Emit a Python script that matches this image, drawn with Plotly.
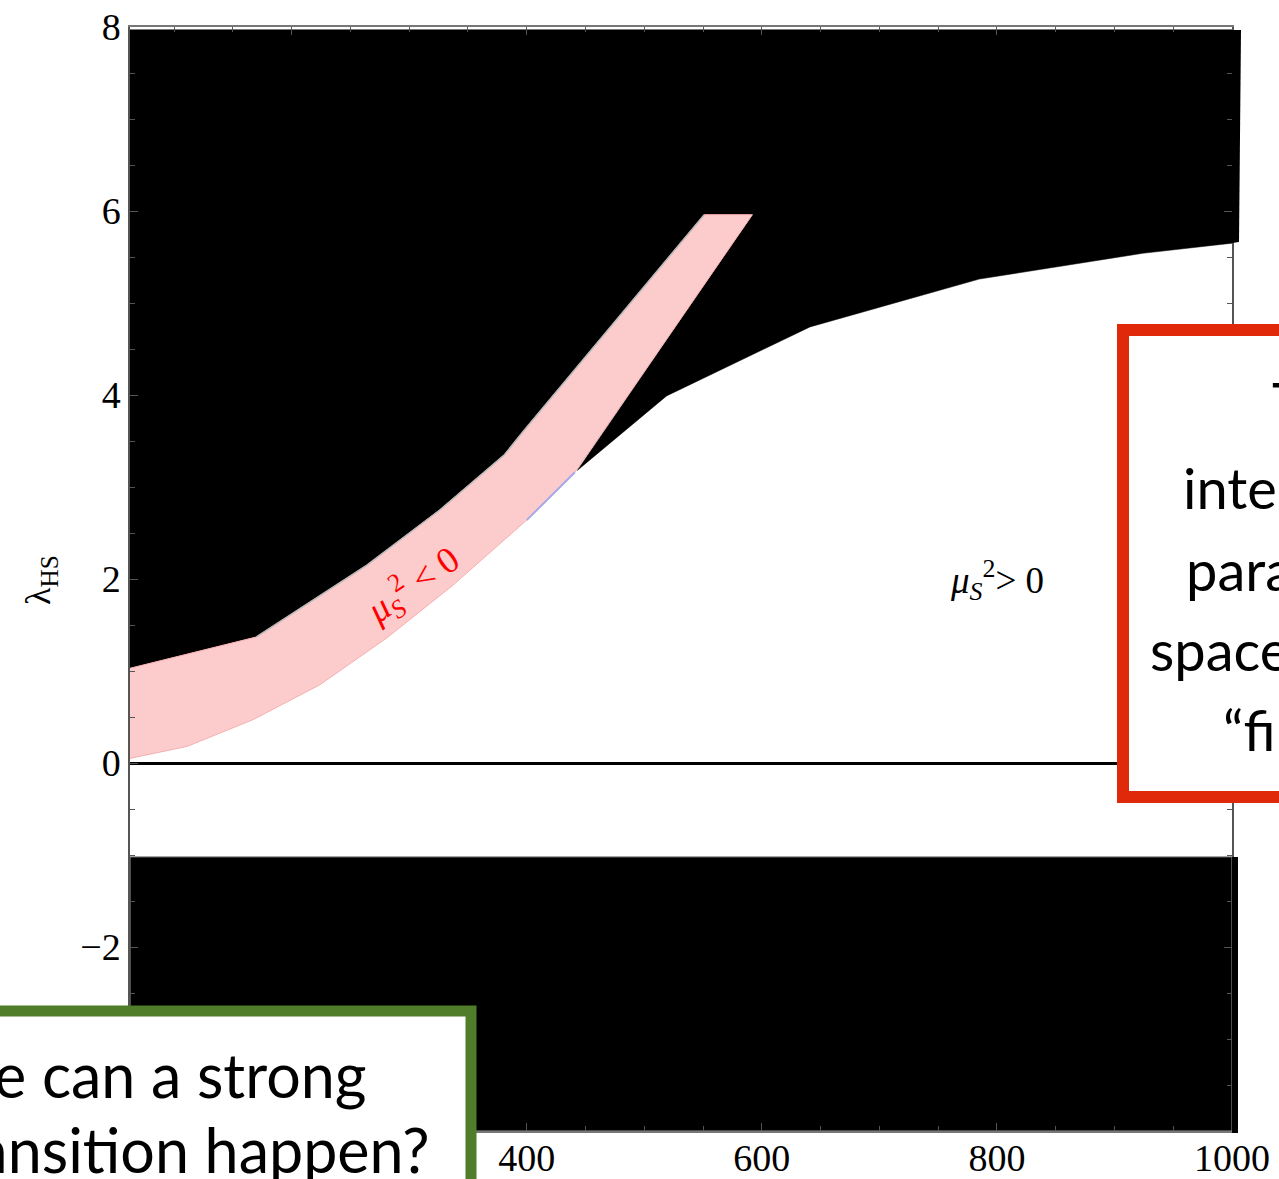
import plotly.graph_objects as go

# ---------------- data ----------------
x_range = [62.5, 1000]
y_range = [-4, 8]

# upper excluded (black) region: lower boundary right of the pink band
edge_x = [443, 519, 641, 785, 924, 1000]
edge_y = [3.18, 3.99, 4.74, 5.26, 5.54, 5.65]
black_top = 7.97

# pink band (mu_S^2 < 0): upper-left edge and lower-right edge
band_top_x = [62.5, 170, 264, 326, 381, 398, 551]
band_top_y = [1.03, 1.37, 2.15, 2.75, 3.35, 3.62, 5.96]
band_low_x = [62.5, 111, 167, 224, 281, 337, 400, 441, 592]
band_low_y = [0.05, 0.18, 0.47, 0.85, 1.36, 1.93, 2.64, 3.16, 5.96]

# lavender sliver on the band's lower edge
lav_x = [400, 441]
lav_y = [2.64, 3.16]

# lower excluded (black) region
lower_x = [62.5, 1000]
lower_top = -1.02
lower_bottom = -4.0

x_ticks = [200, 400, 600, 800, 1000]
y_ticks = [-4, -2, 0, 2, 4, 6, 8]

# ---------------- figure ----------------
fig = go.Figure()

# upper black region (excluding the pink band)
bx = [x_range[0], x_range[1]] + edge_x[::-1] + [band_low_x[-1]] + band_top_x[::-1]
by = [black_top, black_top] + edge_y[::-1] + [band_low_y[-1]] + band_top_y[::-1]
fig.add_trace(go.Scatter(x=bx, y=by, fill="toself", fillcolor="black",
                         line=dict(color="black", width=0.5), mode="lines",
                         hoverinfo="skip", showlegend=False))

# pink band
px_ = band_top_x + band_low_x[::-1]
py_ = band_top_y + band_low_y[::-1]
fig.add_trace(go.Scatter(x=px_, y=py_, fill="toself", fillcolor="#fccbcb",
                         line=dict(color="#f7b0b0", width=1), mode="lines",
                         hoverinfo="skip", showlegend=False))
# grey seam between band and black region
fig.add_trace(go.Scatter(x=band_top_x[1:], y=band_top_y[1:], mode="lines",
                         line=dict(color="#b8b8b8", width=1.5),
                         hoverinfo="skip", showlegend=False))
fig.add_trace(go.Scatter(x=lav_x, y=lav_y, mode="lines",
                         line=dict(color="#a8a8e8", width=2),
                         hoverinfo="skip", showlegend=False))

# lower black region
fig.add_trace(go.Scatter(x=[lower_x[0], lower_x[1], lower_x[1], lower_x[0], lower_x[0]],
                         y=[lower_top, lower_top, lower_bottom, lower_bottom, lower_top],
                         fill="toself", fillcolor="black",
                         line=dict(color="#999999", width=1), mode="lines",
                         hoverinfo="skip", showlegend=False))

# ---------------- layout ----------------
W, H = 1279, 1179
L, R, T, B = 130, 47, 27, 48
pw, ph = W - L - R, H - T - B


def paper_x(px):
    return (px - L) / pw


def paper_y(py):
    return (H - B - py) / ph


serif = "Liberation Serif"
sans = "Lato"

fig.update_layout(
    width=W, height=H, autosize=False,
    margin=dict(l=L, r=R, t=T, b=B, pad=0, autoexpand=False),
    paper_bgcolor="white", plot_bgcolor="white",
    showlegend=False,
    xaxis=dict(range=x_range, tickvals=x_ticks, ticktext=[str(v) for v in x_ticks],
               automargin=False, ticklabelstandoff=-7,
               showgrid=False, zeroline=False, showline=True, linecolor="#777777",
               linewidth=1.5, mirror="ticks", ticks="inside", ticklen=8,
               tickcolor="#555555",
               minor=dict(dtick=50, tick0=0, ticks="inside", ticklen=5, tickcolor="#555555"),
               tickfont=dict(family=serif, size=38, color="black")),
    yaxis=dict(range=y_range, tickvals=y_ticks, automargin=False,
               showgrid=False, zeroline=True, zerolinecolor="black", zerolinewidth=2.5,
               showline=True, linecolor="#555555", linewidth=1.5, mirror="ticks",
               ticks="inside", ticklen=8, tickcolor="#555555",
               minor=dict(dtick=0.5, tick0=0, ticks="inside", ticklen=5, tickcolor="#555555"),
               tickfont=dict(family=serif, size=38, color="black")),
)

shapes = []
# black region spill past right frame
shapes.append(dict(type="path", xref="paper", yref="paper",
                   path=f"M 1,{paper_y(30)} L {paper_x(1241)},{paper_y(30)} "
                        f"L {paper_x(1239)},{paper_y(242)} L 1,{paper_y(243)} Z",
                   fillcolor="black", line=dict(width=0), layer="above"))
shapes.append(dict(type="rect", xref="paper", yref="paper",
                   x0=1, x1=paper_x(1238), y0=paper_y(1133), y1=paper_y(857),
                   fillcolor="black", line=dict(width=0), layer="above"))
# red callout box (extends beyond the right edge)
shapes.append(dict(type="rect", xref="paper", yref="paper",
                   x0=paper_x(1123), x1=paper_x(1400), y0=paper_y(797), y1=paper_y(330),
                   fillcolor="white", line=dict(color="#e0280a", width=12), layer="above"))
# green callout box (extends beyond left/bottom edges)
shapes.append(dict(type="rect", xref="paper", yref="paper",
                   x0=paper_x(-100), x1=paper_x(471), y0=paper_y(1300), y1=paper_y(1011),
                   fillcolor="white", line=dict(color="#507d2a", width=11), layer="above"))
fig.update_layout(shapes=shapes)

ann = []
# axis title
ann.append(dict(xref="paper", yref="paper", x=paper_x(40), y=paper_y(580),
                xanchor="center", yanchor="middle",
                text="λ<sub>HS</sub>", textangle=-90, showarrow=False,
                font=dict(family=serif, size=36, color="black")))
# region labels
ann.append(dict(xref="paper", yref="paper", x=paper_x(412), y=paper_y(585),
                xanchor="center", yanchor="middle",
                text="<i>μ<sub>S</sub></i><sup>2</sup> < 0", textangle=-35, showarrow=False,
                font=dict(family=serif, size=37, color="#ff0000")))
ann.append(dict(xref="paper", yref="paper", x=paper_x(997), y=paper_y(580),
                xanchor="center", yanchor="middle",
                text="<i>μ<sub>S</sub></i><sup>2</sup>> 0", showarrow=False,
                font=dict(family=serif, size=37, color="black")))

# red box text (left-anchored lines, partly off-canvas)
red_lines = [("The", 1270, 418), ("interesting", 1181, 504), ("parameter", 1184, 586),
             ("space is", 1148, 666), ("“fine-tuned”", 1221, 746)]
fs = 56
for txt, x0, base in red_lines:
    ann.append(dict(xref="paper", yref="paper", x=paper_x(x0), y=paper_y(base - 0.3 * fs),
                    xanchor="left", yanchor="middle", text=txt, showarrow=False,
                    font=dict(family=sans, size=fs, color="black")))

# green box text (right-anchored lines, partly off-canvas)
gfs = 61
green_lines = [("Where can a strong", 369, 1093), ("phase transition happen?", 431, 1168)]
for txt, x1, base in green_lines:
    ann.append(dict(xref="paper", yref="paper", x=paper_x(x1), y=paper_y(base - 0.3 * gfs),
                    xanchor="right", yanchor="middle", text=txt, showarrow=False,
                    font=dict(family=sans, size=gfs, color="black")))

fig.update_layout(annotations=ann)

fig.write_html("out.html")
